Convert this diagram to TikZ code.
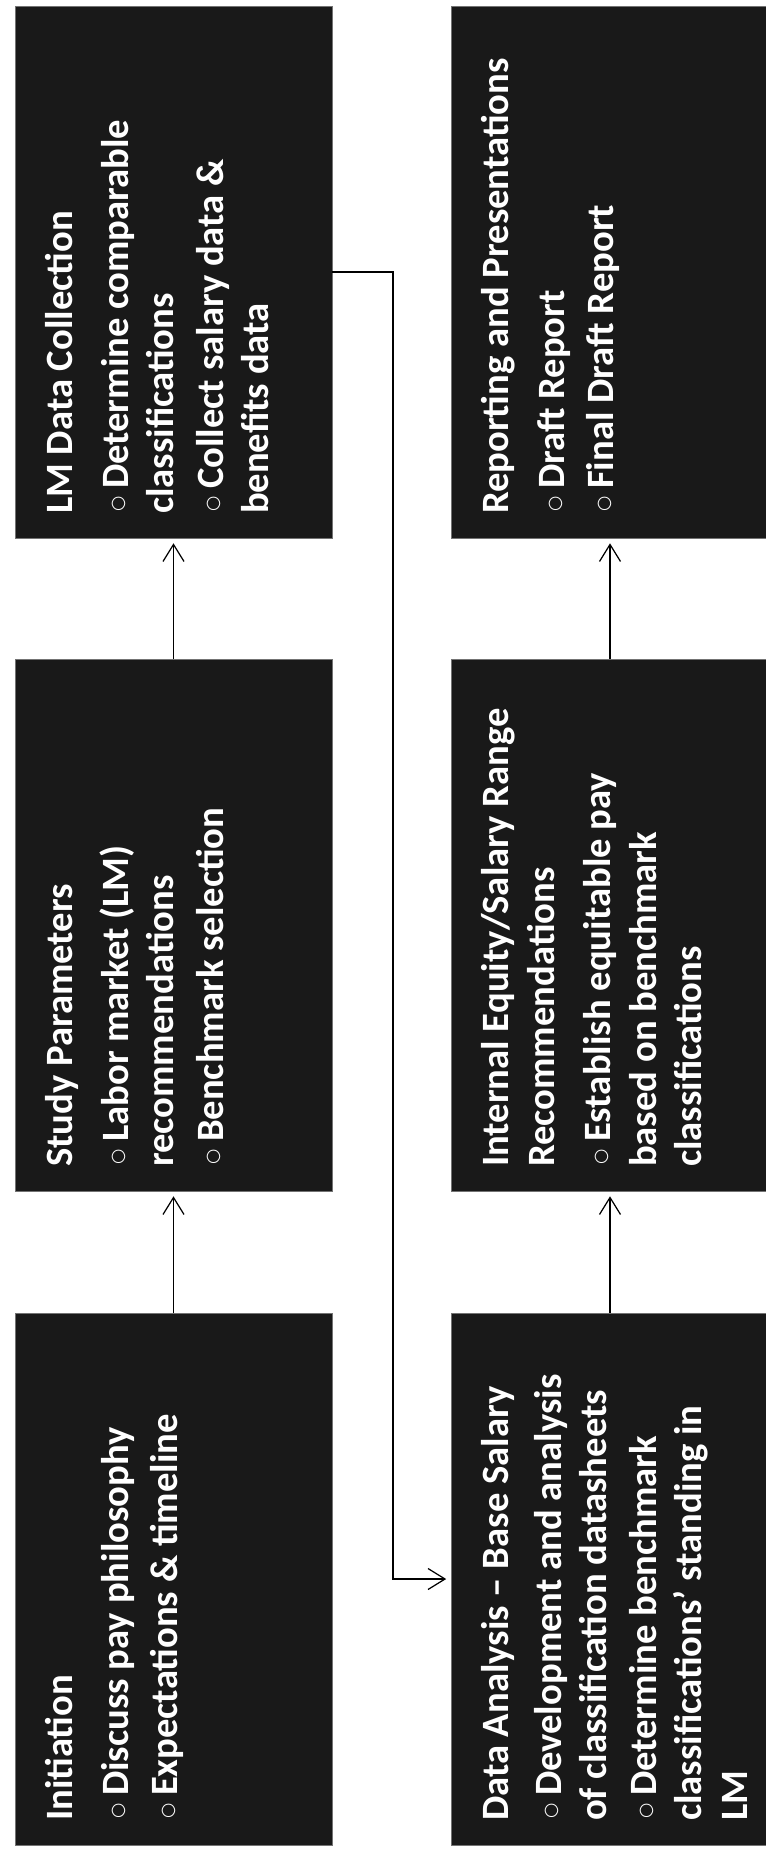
\documentclass[tikz,border=0pt]{standalone}
\usepackage{fontspec}
\setmainfont{Carlito}
\newfontfamily\ringfont{DejaVu Sans}
\usetikzlibrary{arrows.meta}
\definecolor{boxgray}{gray}{0.1}
\newcommand{\ring}{\makebox[0.5cm][l]{\hspace{0.05cm}\raisebox{2.5pt}{\ringfont\fontsize{10}{10}\selectfont ○}}}
\newcommand{\itm}{\par\hangindent=0.5cm\hangafter=1\ring}
\newcommand{\stagetext}[1]{\parbox[c][6.34cm][t]{10.64cm}{\raggedright\leftskip=0.48cm\parskip=2pt
\fontsize{22}{26}\selectfont\bfseries\rule{0pt}{1.14cm}#1}}
\tikzset{
  stage/.style={rotate=90,fill=boxgray,draw=black!55,inner sep=0pt,text=white},
  arr/.style={draw=black,line width=0.7pt,-{Straight Barb[length=0.34cm,width=0.42cm]},shorten >=0.1cm}
}
\begin{document}
\begin{tikzpicture}[x=0.02cm,y=-0.02cm]
\useasboundingbox (0,0) rectangle (765,1849);
% left column
\node[stage] (lm) at (173.5,272) {\stagetext{LM Data Collection\par\vspace{4pt}
\itm Determine comparable\\classifications\itm Collect salary data \&\\benefits data}};
\node[stage] (study) at (173.5,925) {\stagetext{Study Parameters\par\vspace{4pt}
\itm Labor market (LM)\\recommendations\itm Benchmark selection}};
\node[stage] (init) at (173.5,1579) {\stagetext{Initiation\par\vspace{4pt}
\itm Discuss pay philosophy\itm Expectations \& timeline}};
% right column
\node[stage] (report) at (610,272) {\stagetext{Reporting and Presentations\par\vspace{4pt}
\itm Draft Report\itm Final Draft Report}};
\node[stage] (internal) at (610,925) {\stagetext{Internal Equity/Salary Range\\Recommendations\par\vspace{4pt}
\itm Establish equitable pay\\based on benchmark\\classifications}};
\node[stage] (da) at (610,1579) {\stagetext{Data Analysis -- Base Salary\par\vspace{2pt}
\itm Development and analysis\\of classification datasheets\itm Determine benchmark\\classifications’ standing in\\LM}};
\coordinate (turn) at (393,0);
\draw[arr] (init.east) -- (study.west);
\draw[arr] (study.east) -- (lm.west);
\draw[arr] (lm.south) -- (lm.south -| turn) -- (turn |- da.north) -- (da.north);
\draw[arr] (da.east) -- (internal.west);
\draw[arr] (internal.east) -- (report.west);
\end{tikzpicture}
\end{document}
